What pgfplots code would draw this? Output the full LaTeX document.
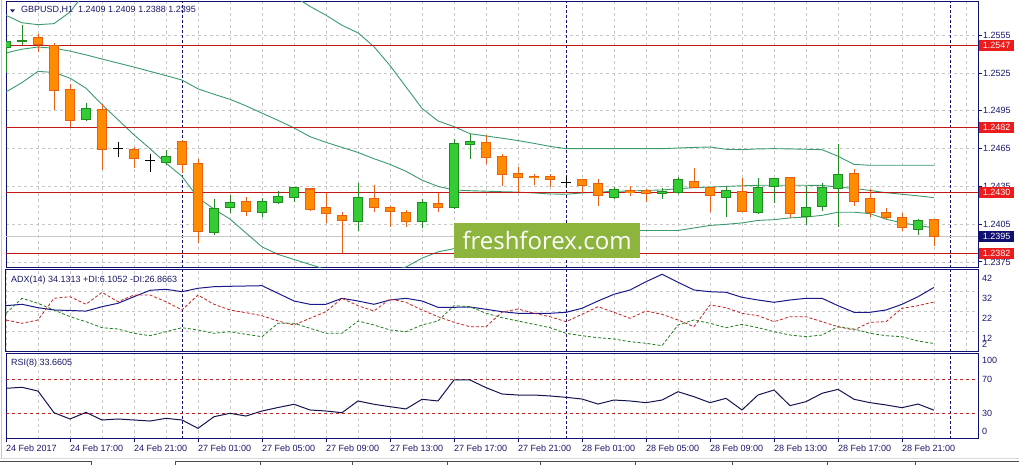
\documentclass[border=0pt]{standalone}
\usepackage{pgfplots}
\pgfplotsset{compat=1.18}
\usepackage{pgfplotstable}
\usepackage{fontspec}
\setmainfont{Liberation Sans}
\newfontfamily\wmfont{Open Sans}

\definecolor{frame}{RGB}{16,16,112}
\definecolor{txt}{RGB}{24,24,104}
\definecolor{gridc}{RGB}{200,200,200}
\definecolor{bullfill}{RGB}{50,205,50}
\definecolor{bulledge}{RGB}{34,139,34}
\definecolor{bearfill}{RGB}{255,140,0}
\definecolor{bearedge}{RGB}{235,95,20}
\definecolor{bband}{RGB}{60,155,110}
\definecolor{lvl}{RGB}{195,22,22}
\definecolor{lvlbox}{RGB}{235,28,28}
\definecolor{curr}{RGB}{200,200,200}
\definecolor{adxc}{RGB}{25,25,140}
\definecolor{pdi}{RGB}{30,125,30}
\definecolor{mdi}{RGB}{195,35,35}
\definecolor{rsic}{RGB}{20,20,80}
\definecolor{wm}{RGB}{141,180,60}

% GBPUSD H1 candles, k = bar number (0 = 24 Feb 13:00)
\pgfplotstableread{
k o h l c
0 1.25457 1.25500 1.25250 1.25500
1 1.25505 1.25635 1.25476 1.25513
5 1.24880 1.25015 1.24870 1.24968
10 1.24544 1.24642 1.24518 1.24589
13 1.23983 1.24253 1.23962 1.24174
14 1.24181 1.24279 1.24139 1.24221
16 1.24142 1.24261 1.24107 1.24229
17 1.24221 1.24314 1.24213 1.24269
18 1.24261 1.24346 1.24226 1.24340
22 1.24070 1.24377 1.23996 1.24261
26 1.24070 1.24253 1.24020 1.24221
28 1.24181 1.24729 1.24173 1.24690
29 1.24684 1.24769 1.24571 1.24706
38 1.24266 1.24346 1.24253 1.24330
41 1.24298 1.24340 1.24248 1.24311
42 1.24301 1.24430 1.24293 1.24406
45 1.24266 1.24346 1.24107 1.24316
47 1.24144 1.24420 1.24131 1.24340
48 1.24346 1.24420 1.24221 1.24412
50 1.24115 1.24351 1.24041 1.24187
51 1.24195 1.24380 1.24155 1.24346
52 1.24338 1.24690 1.24028 1.24446
57 1.24007 1.24091 1.23962 1.24081
}\bull

\pgfplotstableread{
k o h l c
2 1.25531 1.25563 1.25418 1.25476
3 1.25468 1.25492 1.24954 1.25113
4 1.25119 1.25166 1.24822 1.24875
6 1.24960 1.25007 1.24478 1.24642
8 1.24645 1.24663 1.24496 1.24571
11 1.24706 1.24721 1.24459 1.24523
12 1.24531 1.24571 1.23901 1.23991
15 1.24229 1.24266 1.24115 1.24150
19 1.24330 1.24340 1.24155 1.24171
20 1.24181 1.24298 1.24060 1.24134
21 1.24121 1.24144 1.23824 1.24081
23 1.24253 1.24359 1.24147 1.24187
24 1.24181 1.24192 1.24028 1.24147
25 1.24144 1.24160 1.24028 1.24076
27 1.24213 1.24298 1.24147 1.24187
30 1.24698 1.24756 1.24531 1.24579
31 1.24589 1.24605 1.24356 1.24446
32 1.24451 1.24504 1.24306 1.24420
33 1.24433 1.24451 1.24359 1.24420
34 1.24430 1.24451 1.24346 1.24404
36 1.24404 1.24409 1.24298 1.24356
37 1.24372 1.24412 1.24192 1.24277
39 1.24319 1.24351 1.24271 1.24301
40 1.24319 1.24332 1.24226 1.24293
43 1.24390 1.24496 1.24340 1.24346
44 1.24340 1.24346 1.24144 1.24277
46 1.24311 1.24420 1.24150 1.24155
49 1.24420 1.24420 1.24102 1.24134
53 1.24451 1.24491 1.24192 1.24234
54 1.24253 1.24330 1.24107 1.24144
55 1.24142 1.24181 1.24091 1.24107
56 1.24102 1.24142 1.24001 1.24023
58 1.24090 1.24090 1.23880 1.23950
}\bear

\pgfplotstableread{
k o h l c
7 1.24650 1.24703 1.24584 1.24650
9 1.24557 1.24610 1.24465 1.24557
35 1.24385 1.24430 1.24346 1.24385
}\doji

% Bollinger bands
\pgfplotstableread{
k up mid lo
0 1.25709 1.25410 1.25100
1 1.25650 1.25440 1.25175
2 1.25635 1.25457 1.25264
3 1.25643 1.25448 1.25255
4 1.25735 1.25425 1.25210
5 1.25900 1.25395 1.25130
6 1.25980 1.25362 1.25000
7 1.26030 1.25330 1.24880
8 1.26070 1.25298 1.24760
9 1.26100 1.25264 1.24650
10 1.26120 1.25230 1.24535
11 1.26140 1.25195 1.24430
12 1.26140 1.25125 1.24260
13 1.26130 1.25082 1.24170
14 1.26100 1.25042 1.24090
15 1.26050 1.24990 1.23980
16 1.26000 1.24932 1.23870
17 1.25930 1.24875 1.23810
18 1.25860 1.24815 1.23770
19 1.25780 1.24745 1.23730
20 1.25710 1.24700 1.23690
21 1.25630 1.24660 1.23660
22 1.25570 1.24620 1.23640
23 1.25460 1.24570 1.23650
24 1.25310 1.24525 1.23680
25 1.25140 1.24470 1.23710
26 1.24970 1.24400 1.23780
27 1.24870 1.24350 1.23830
28 1.24825 1.24322 1.23856
29 1.24769 1.24316 1.23870
30 1.24751 1.24312 1.23890
31 1.24733 1.24308 1.23900
32 1.24714 1.24305 1.23910
33 1.24692 1.24298 1.23920
34 1.24668 1.24290 1.23930
35 1.24650 1.24288 1.23945
36 1.24650 1.24298 1.23960
37 1.24650 1.24306 1.23970
38 1.24650 1.24310 1.23980
39 1.24650 1.24314 1.24000
40 1.24650 1.24318 1.24000
41 1.24650 1.24322 1.24000
42 1.24655 1.24332 1.24000
43 1.24660 1.24340 1.24020
44 1.24663 1.24345 1.24040
45 1.24645 1.24350 1.24049
46 1.24642 1.24355 1.24060
47 1.24648 1.24359 1.24080
48 1.24650 1.24359 1.24086
49 1.24648 1.24359 1.24100
50 1.24645 1.24359 1.24107
51 1.24642 1.24358 1.24120
52 1.24590 1.24345 1.24145
53 1.24525 1.24334 1.24145
54 1.24518 1.24318 1.24134
55 1.24518 1.24300 1.24090
56 1.24518 1.24288 1.24060
57 1.24518 1.24275 1.24040
58 1.24518 1.24261 1.24020
}\bands

% ADX(14), +DI, -DI, RSI(8)
\pgfplotstableread{
k adx pdi mdi rsi
0 25.0 21.2 17.85 59.4
1 25.7 28.7 16.2 60.6
2 24.0 26.2 17.85 56.2
3 22.85 22.85 28.7 30.7
4 22.6 19.5 29.5 23.3
5 22.3 17.0 25.7 31.1
6 24.5 14.0 31.7 22.1
7 26.2 13.35 27.0 23.3
8 29.5 11.2 30.35 22.1
9 32.7 10.0 30.35 20.9
10 33.2 12.0 27.0 24.1
11 32.0 14.0 22.85 22.1
12 33.7 12.85 30.35 12.3
13 34.5 11.2 25.7 26.0
14 34.7 12.0 22.85 30.0
15 34.85 10.7 21.5 26.8
16 35.0 9.5 20.0 32.7
17 31.2 16.2 17.35 36.8
18 27.35 16.2 15.35 40.6
19 25.7 13.7 18.7 33.9
20 25.7 11.2 22.0 32.7
21 28.7 11.2 28.7 30.7
22 27.35 17.35 25.0 44.5
23 25.7 15.35 22.35 40.6
24 27.85 12.85 28.35 37.8
25 28.7 12.0 26.7 35.1
26 27.35 15.35 22.85 46.5
27 24.2 17.35 19.5 44.5
28 24.2 25.0 16.7 69.2
29 24.35 24.5 14.5 69.2
30 23.2 21.2 14.5 60.2
31 22.0 19.0 21.8 52.7
32 21.2 17.35 23.35 51.5
33 21.2 15.7 21.2 51.5
34 21.2 14.0 19.5 50.4
35 21.7 11.2 17.0 48.8
36 23.7 10.0 20.7 46.8
37 27.35 9.0 24.5 40.9
38 30.7 8.35 21.7 45.6
39 32.85 7.0 18.7 44.5
40 37.0 6.2 22.35 42.5
41 40.7 5.0 20.7 45.6
42 36.7 15.35 17.85 55.4
43 32.85 17.85 14.5 49.5
44 32.0 16.2 25.35 42.5
45 31.7 14.0 24.0 47.6
46 29.2 15.7 21.2 33.9
47 27.85 14.0 20.0 51.5
48 26.7 12.0 17.0 57.4
49 27.85 10.35 19.5 39.0
50 28.7 9.5 19.5 43.7
51 28.7 10.35 17.0 53.5
52 25.0 14.5 14.5 58.2
53 21.7 13.35 12.85 46.5
54 21.7 11.2 16.7 42.5
55 22.85 10.0 17.0 39.8
56 25.7 9.5 23.7 36.6
57 29.5 7.35 25.0 40.9
58 34.13 6.11 26.87 33.66
}\ind

\tikzset{lbl/.style={font=\fontsize{9}{10}\selectfont, text=txt, inner sep=0pt}}

\pgfplotsset{
  mt/.style={scale only axis, width=972pt, xmin=0, xmax=60.75,
    enlargelimits=false, clip mode=individual,
    axis line style={draw=frame, line width=1pt},
    xtick={0,2,...,60}, xticklabels={}, xtick style={draw=none},
    ytick style={draw=none}, yticklabels={},
    grid=major,
    major grid style={draw=gridc, line width=0.8pt, dash pattern=on 3pt off 3pt},
    extra x ticks={11,35,59}, extra x tick labels={},
    extra x tick style={grid=major, major tick length=0pt,
      major grid style={draw=frame, line width=1pt, dash pattern=on 3pt off 2pt}},
    tick label style={font=\fontsize{9}{10}\selectfont, text=txt},
  },
  nomark/.style={only marks, mark=*, mark size=0pt, mark options={draw=none, fill=none}, forget plot},
  wick/.style={nomark,
    error bars/.cd, y dir=both, y explicit, error mark=none,
    error bar style={line width=1pt, draw=#1}},
  body/.style 2 args={nomark,
    error bars/.cd, y dir=both, y explicit, error mark=none,
    error bar style={line width=#2, draw=#1}},
  level/.style={color=lvl, solid, line width=1pt, mark=none},
}

\begin{document}
\begin{tikzpicture}
\fill[white] (0pt,0pt) rectangle (1019pt,465pt);
\path[use as bounding box] (0pt,0pt) rectangle (1019pt,465pt);

% ---------- price panel ----------
\begin{axis}[mt, at={(6pt,197pt)}, anchor=south west, height=266pt,
  ymin=1.23702, ymax=1.25815,
  ytick={1.2375,1.2405,1.2435,1.2465,1.2495,1.2525,1.2555},
  yticklabels={1.2375,1.2405,1.2435,1.2465,1.2495,1.2525,1.2555},
  ytick pos=right, yticklabel pos=right,
  ytick style={draw=frame, line width=1pt}, tick align=outside, major tick length=4pt,
  yticklabel style={anchor=west, inner sep=0pt, xshift=1pt},
]
\addplot[curr, line width=1pt] coordinates {(0,1.2395) (60.75,1.2395)};
\addplot[bband, line width=0.9pt] table[x=k, y=up] {\bands};
\addplot[bband, line width=0.9pt] table[x=k, y=mid] {\bands};
\addplot[bband, line width=0.9pt] table[x=k, y=lo] {\bands};
\addplot[level] coordinates {(0,1.2547) (60.75,1.2547)};
\addplot[level] coordinates {(0,1.2482) (60.75,1.2482)};
\addplot[level] coordinates {(0,1.2430) (60.75,1.2430)};
\addplot[level] coordinates {(0,1.2382) (60.75,1.2382)};
\coordinate (lvA) at (axis cs:60.75,1.2547);
\coordinate (lvB) at (axis cs:60.75,1.2482);
\coordinate (lvC) at (axis cs:60.75,1.2430);
\coordinate (lvD) at (axis cs:60.75,1.2382);
\coordinate (cur) at (axis cs:60.75,1.2395);
% wicks
\addplot[wick=bulledge] table[x=k, y expr={(\thisrow{h}+\thisrow{l})/2}, y error expr={(\thisrow{h}-\thisrow{l})/2}] {\bull};
\addplot[wick=bearedge] table[x=k, y expr={(\thisrow{h}+\thisrow{l})/2}, y error expr={(\thisrow{h}-\thisrow{l})/2}] {\bear};
\addplot[wick=black] table[x=k, y expr={(\thisrow{h}+\thisrow{l})/2}, y error expr={(\thisrow{h}-\thisrow{l})/2}] {\doji};
% bodies: edge then fill
\addplot[body={bulledge}{10pt}] table[x=k, y expr={(\thisrow{o}+\thisrow{c})/2}, y error expr={abs(\thisrow{c}-\thisrow{o})/2+0.00004}] {\bull};
\addplot[body={bullfill}{8pt}] table[x=k, y expr={(\thisrow{o}+\thisrow{c})/2}, y error expr={max(abs(\thisrow{c}-\thisrow{o})/2-0.00004,0)}] {\bull};
\addplot[body={bearedge}{10pt}] table[x=k, y expr={(\thisrow{o}+\thisrow{c})/2}, y error expr={abs(\thisrow{c}-\thisrow{o})/2+0.00004}] {\bear};
\addplot[body={bearfill}{8pt}] table[x=k, y expr={(\thisrow{o}+\thisrow{c})/2}, y error expr={max(abs(\thisrow{c}-\thisrow{o})/2-0.00004,0)}] {\bear};
\addplot[nomark,
  error bars/.cd, x dir=both, x fixed=0.3125, error mark=none,
  error bar style={line width=1pt, draw=black}] table[x=k, y=o] {\doji};
\end{axis}

% price boxes on the right scale
\foreach \n/\p in {lvA/1.2547,lvB/1.2482,lvC/1.2430,lvD/1.2382}
  \node[lbl, text=white, fill=lvlbox, anchor=west, inner xsep=3.7pt, minimum height=11pt] at ([xshift=1pt]\n) {\p};
\node[lbl, text=white, fill=frame, anchor=west, inner xsep=3.7pt, minimum height=11pt] at ([xshift=1pt]cur) {1.2395};

% ---------- ADX panel ----------
\begin{axis}[mt, at={(6pt,113.3pt)}, anchor=south west, height=81.7pt,
  ymin=2, ymax=42.85, ytick={12,22,32}]
\addplot[adxc, line width=1pt] table[x=k, y=adx] {\ind};
\addplot[mdi, line width=0.8pt, dash pattern=on 3pt off 2pt] table[x=k, y=mdi] {\ind};
\addplot[pdi, line width=0.8pt, dash pattern=on 3pt off 2pt] table[x=k, y=pdi] {\ind};
\pgfplotsinvokeforeach{42,32,22,12}{
  \node[lbl, anchor=west, xshift=4pt, yshift=-7pt] at (axis cs:60.75,#1) {#1};
}
\node[lbl, anchor=west, xshift=4pt, yshift=7pt] at (axis cs:60.75,2) {2};
\end{axis}

% ---------- RSI panel ----------
\begin{axis}[mt, at={(6pt,26.2pt)}, anchor=south west, height=85pt,
  ymin=0, ymax=100, ytick=\empty,
  xtick={0,4,...,56}, minor xtick={2,6,...,58}, grid=both,
  minor grid style={draw=gridc, line width=0.8pt, dash pattern=on 3pt off 3pt},
  xticklabels={24 Feb 2017,24 Feb 17:00,24 Feb 21:00,27 Feb 01:00,27 Feb 05:00,27 Feb 09:00,27 Feb 13:00,27 Feb 17:00,27 Feb 21:00,28 Feb 01:00,28 Feb 05:00,28 Feb 09:00,28 Feb 13:00,28 Feb 17:00,28 Feb 21:00},
  xtick style={draw=frame, line width=1pt}, xtick pos=bottom, tick align=outside,
  major tick length=3.5pt, minor tick length=0pt,
  xticklabel style={anchor=west, inner sep=0pt, yshift=-6pt},
]
\addplot[color=mdi, line width=1pt, dash pattern=on 3pt off 3pt] coordinates {(0,70) (60.75,70)};
\addplot[color=mdi, line width=1pt, dash pattern=on 3pt off 3pt] coordinates {(0,30) (60.75,30)};
\addplot[rsic, line width=1pt] table[x=k, y=rsi] {\ind};
\node[lbl, anchor=west, xshift=4pt, yshift=-7pt] at (axis cs:60.75,100) {100};
\node[lbl, anchor=west, xshift=4pt] at (axis cs:60.75,70) {70};
\node[lbl, anchor=west, xshift=4pt] at (axis cs:60.75,30) {30};
\node[lbl, anchor=west, xshift=4pt, yshift=7.5pt] at (axis cs:60.75,0) {0};
\end{axis}

% headers
\fill[txt] (10pt,455.7pt) -- (15pt,455.7pt) -- (12.5pt,452.5pt) -- cycle;
\node[lbl, anchor=west] at (21pt,455pt) {GBPUSD,H1\ \ 1.2409 1.2409 1.2388 1.2395};
\node[lbl, anchor=west] at (11pt,185.3pt) {ADX(14) 34.1313 +DI:6.1052 -DI:26.8663};
\node[lbl, anchor=west] at (11pt,101.7pt) {RSI(8) 33.6605};

% watermark
\fill[wm] (454pt,207pt) rectangle (640pt,242pt);
\node[text=white, font=\wmfont\fontsize{24}{24}\selectfont, anchor=base, inner sep=0pt] at (547pt,215pt) {freshforex.com};

% window frame and tabs
\draw[gray!45, line width=1pt] (1pt,6pt) -- (1pt,465pt);
\draw[gray!30, line width=1pt] (0pt,6pt) -- (1019pt,6pt);
\draw[black!70, line width=0.7pt] (0pt,3.5pt) -- (91pt,3.5pt) (175pt,3.5pt) -- (1019pt,3.5pt);
\foreach \t in {91,175,260,352,447,540,635,732,827,915}
  \draw[black!70, line width=0.7pt] (\t pt,0pt) -- (\t pt,3.5pt);
\end{tikzpicture}
\end{document}
